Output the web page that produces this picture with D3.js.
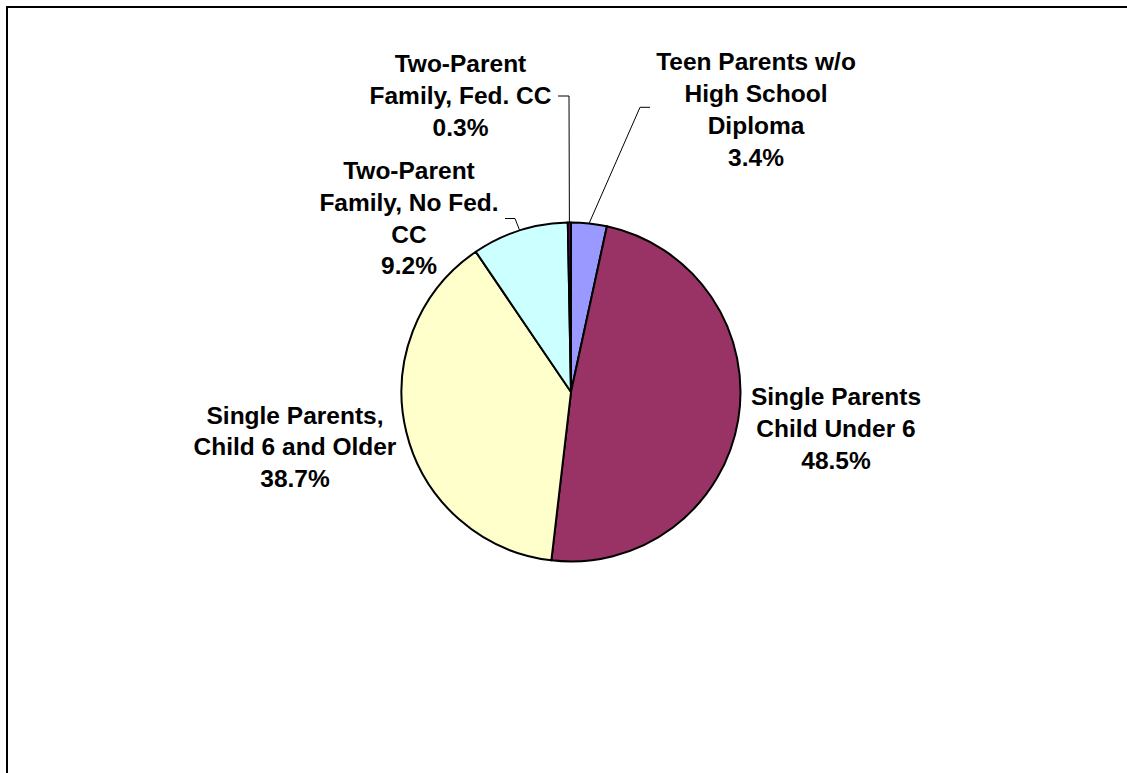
<!DOCTYPE html>
<html>
<head>
<meta charset="utf-8">
<script src="https://cdn.jsdelivr.net/npm/d3@7"></script>
<style>
  html, body { margin: 0; padding: 0; background: #fff; }
  svg { display: block; }
  text { font-family: Arial, "Liberation Sans", sans-serif; font-weight: bold; fill: #000; }
</style>
</head>
<body>
<svg id="chart" width="1127" height="773"></svg>
<script>
// ---- data ----
const categories = [
  "Teen Parents w/o High School Diploma",
  "Single Parents Child Under 6",
  "Single Parents, Child 6 and Older",
  "Two-Parent Family, No Fed. CC",
  "Two-Parent Family, Fed. CC"
];
const values = [3.4, 48.5, 38.7, 9.2, 0.3];
const colors = ["#9999FF", "#993366", "#FFFFCC", "#CCFFFF", "#660066"];
const labelLines = [
  ["Teen Parents w/o", "High School", "Diploma", "3.4%"],
  ["Single Parents", "Child Under 6", "48.5%"],
  ["Single Parents,", "Child 6 and Older", "38.7%"],
  ["Two-Parent", "Family, No Fed.", "CC", "9.2%"],
  ["Two-Parent", "Family, Fed. CC", "0.3%"]
];

// ---- layout ----
const cx = 571, cy = 392, R = 169.5;
const fontSize = 24.5, lineH = 31.8;
// label block centers (x, y of first line center)
const labelPos = [
  [756, 61.7],
  [836, 396.5],
  [295, 415],
  [409, 170.5],
  [460.5, 63.5]
];
// leader line: label-side anchor [x0, x1, y] (horizontal segment), null = none
const leaders = [
  [650, 640, 107.3],
  null,
  null,
  [505, 515, 218.5],
  [558, 569, 96]
];

const svg = d3.select("#chart");

// frame
svg.append("rect")
  .attr("x", 7).attr("y", 7)
  .attr("width", 1140).attr("height", 800)
  .attr("fill", "none").attr("stroke", "#000").attr("stroke-width", 2);

const data = categories.map((c, i) => ({ name: c, value: values[i], i }));
const pie = d3.pie().value(d => d.value).sort(null).startAngle(0).endAngle(2 * Math.PI);
const arcs = pie(data);
const arc = d3.arc().innerRadius(0).outerRadius(R);

const g = svg.append("g").attr("transform", `translate(${cx},${cy})`);
g.selectAll("path.slice")
  .data(arcs)
  .enter().append("path")
  .attr("class", "slice")
  .attr("d", arc)
  .attr("fill", d => colors[d.data.i])
  .attr("stroke", "#000")
  .attr("stroke-width", 2)
  .attr("stroke-linejoin", "round");

// leader lines
arcs.forEach((a, i) => {
  const L = leaders[i];
  if (!L) return;
  const mid = (a.startAngle + a.endAngle) / 2;
  const px = cx + R * Math.sin(mid);
  const py = cy - R * Math.cos(mid);
  const pts = [[L[0], L[2]], [L[1], L[2]], [px, py]];
  svg.append("path")
    .attr("d", d3.line()(pts))
    .attr("fill", "none")
    .attr("stroke", "#000")
    .attr("stroke-width", 1);
});

// labels
labelLines.forEach((lines, i) => {
  const [x, y0] = labelPos[i];
  const t = svg.append("text")
    .attr("text-anchor", "middle")
    .attr("font-size", fontSize);
  lines.forEach((ln, k) => {
    t.append("tspan")
      .attr("x", x)
      .attr("y", y0 + k * lineH + fontSize * 0.35)
      .text(ln);
  });
});
</script>
</body>
</html>
